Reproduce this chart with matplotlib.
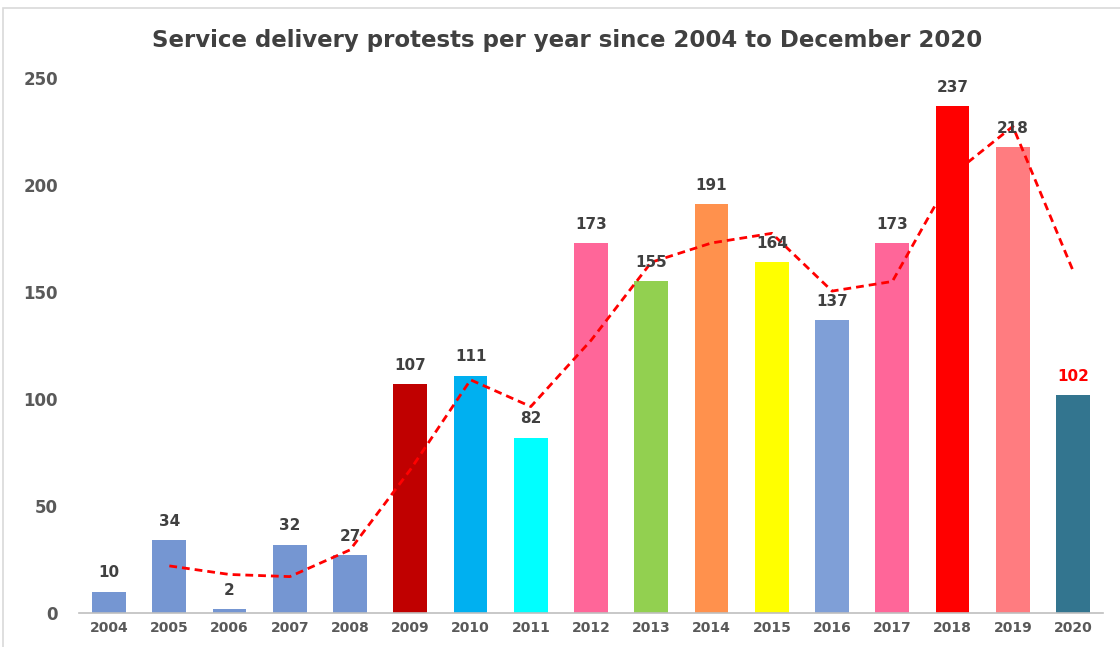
import matplotlib.pyplot as plt
from matplotlib.patches import Rectangle

# ---------------------------------------------------------------------------
# Data
# ---------------------------------------------------------------------------
years = ["2004", "2005", "2006", "2007", "2008", "2009", "2010", "2011", "2012",
         "2013", "2014", "2015", "2016", "2017", "2018", "2019", "2020"]
protests = [10, 34, 2, 32, 27, 107, 111, 82, 173, 155, 191, 164, 137, 173, 237, 218, 102]
bar_colors = ["#7596D2", "#7596D2", "#7596D2", "#7596D2", "#7596D2", "#C00000",
              "#00B0F0", "#00FFFF", "#FF6699", "#92D050", "#FF914D", "#FFFF00",
              "#7F9FD7", "#FF6699", "#FF0000", "#FF7C80", "#33758F"]

# dashed trend line (2-year moving average), starts at 2005
trend_years = years[1:]
trend = [22, 18, 17, 29.5, 67, 109, 96.5, 127.5, 164, 173, 177.5, 150.5, 155,
         205, 227.5, 160]

yticks = [0, 50, 100, 150, 200, 250]

plt.rcParams["font.family"] = ["DejaVu Sans"]

fig = plt.figure(figsize=(11.2, 6.47), dpi=100)
ax = fig.add_axes([0.0705, 0.0526, 0.9145, 0.8264])

x = list(range(len(years)))
ax.bar(x, protests, width=0.56, color=bar_colors, zorder=2)

for xi, v in zip(x, protests):
    col = "#FF0000" if years[xi] == "2020" else "#404040"
    ax.annotate(str(v), (xi, v), xytext=(0, 8), textcoords="offset points",
                ha="center", va="bottom", fontsize=11, fontweight="bold",
                color=col, zorder=4)

tx = [years.index(y) for y in trend_years]
ax.plot(tx, trend, color="#FF0000", lw=2, ls=(0, (2.8, 1.8)),
        solid_joinstyle="round", dash_capstyle="butt", zorder=3)

ax.set_xlim(-0.5, 16.5)
ax.set_ylim(0, 250)
ax.set_xticks(x)
ax.set_xticklabels(years, fontsize=10, fontweight="bold", color="#595959")
ax.set_yticks(yticks)
ax.set_yticklabels([str(t) for t in yticks], fontsize=12, fontweight="bold",
                   color="#595959")
ax.tick_params(axis="both", length=0)
ax.tick_params(axis="y", pad=15)
ax.tick_params(axis="x", pad=6)
for s in ["top", "right", "left"]:
    ax.spines[s].set_visible(False)
ax.spines["bottom"].set_color("#BFBFBF")
ax.spines["bottom"].set_linewidth(1.2)

fig.text(0.506, 0.937, "Service delivery protests per year since 2004 to December 2020",
         ha="center", va="center", fontsize=16.5, fontweight="bold", color="#404040")

# light frame around the chart
fig.patches.append(Rectangle((0.003, -0.01), 1.0, 0.998, transform=fig.transFigure,
                             fill=False, edgecolor="#D9D9D9", lw=1.2))

fig.savefig("out.png", dpi=100)
